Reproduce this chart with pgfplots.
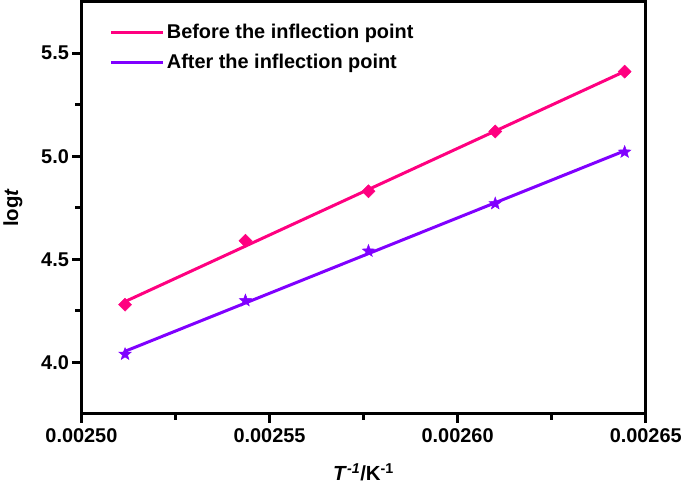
\documentclass[border=0pt]{standalone}
\usepackage{fontspec}
\setmainfont{Liberation Sans}
\usepackage{pgfplots}
\pgfplotsset{compat=1.18}
\definecolor{cpink}{RGB}{255,0,128}
\definecolor{cviolet}{RGB}{128,0,255}
\pgfdeclareplotmark{fstar}{%
  \pgfpathmoveto{\pgfpointpolar{90}{\pgfplotmarksize}}%
  \pgfpathlineto{\pgfpointpolar{126}{0.42\pgfplotmarksize}}%
  \pgfpathlineto{\pgfpointpolar{162}{\pgfplotmarksize}}%
  \pgfpathlineto{\pgfpointpolar{198}{0.42\pgfplotmarksize}}%
  \pgfpathlineto{\pgfpointpolar{234}{\pgfplotmarksize}}%
  \pgfpathlineto{\pgfpointpolar{270}{0.42\pgfplotmarksize}}%
  \pgfpathlineto{\pgfpointpolar{306}{\pgfplotmarksize}}%
  \pgfpathlineto{\pgfpointpolar{342}{0.42\pgfplotmarksize}}%
  \pgfpathlineto{\pgfpointpolar{18}{\pgfplotmarksize}}%
  \pgfpathlineto{\pgfpointpolar{54}{0.42\pgfplotmarksize}}%
  \pgfpathclose\pgfusepathqfillstroke}
\pgfdeclareplotmark{fdiamond}{%
  \pgfpathmoveto{\pgfqpoint{0pt}{\pgfplotmarksize}}%
  \pgfpathlineto{\pgfqpoint{\pgfplotmarksize}{0pt}}%
  \pgfpathlineto{\pgfqpoint{0pt}{-\pgfplotmarksize}}%
  \pgfpathlineto{\pgfqpoint{-\pgfplotmarksize}{0pt}}%
  \pgfpathclose\pgfusepathqfillstroke}
\begin{document}
\begin{tikzpicture}[line width=3bp]
\begin{axis}[
  name=ax,
  scale only axis, width=565bp, height=413bp,
  xmin=0.0025, xmax=0.00265, ymin=3.75, ymax=5.75,
  scaled x ticks=false, scaled y ticks=false,
  xtick={0.0025,0.00255,0.0026,0.00265},
  xticklabels={0.00250,0.00255,0.00260,0.00265},
  ytick={4.0,4.5,5.0,5.5},
  yticklabels={4.0,4.5,5.0,5.5},
  minor x tick num=1, minor y tick num=1,
  tick align=outside, tick pos=left,
  major tick length=9bp, minor tick length=6bp,
  axis line style={line width=3bp, black},
  every tick/.append style={black, line width=3bp},
  major tick style={black, line width=3bp},
  minor tick style={black, line width=3bp},
  tick label style={font=\fontsize{20}{23}\selectfont\bfseries},
  xticklabel style={yshift=-2bp},
  /pgf/number format/assume math mode=true,
  label style={font=\fontsize{20.5}{24}\selectfont\bfseries},
  ylabel style={yshift=12bp},
  xlabel style={yshift=-14bp},
  xlabel={\textit{T}\textsuperscript{\textit{-1}}/K\textsuperscript{-1}},
  ylabel={log\textit{t}},
  legend style={draw=none, fill=none, at={(0.045,0.955)}, anchor=north west,
    font=\fontsize{20}{23}\selectfont\bfseries, row sep=10bp},
  legend cell align=left,
  legend image code/.code={\draw (0bp,0bp) -- (52bp,0bp);},
]
\addplot[cpink, line width=3bp] coordinates {(0.0025116,4.295) (0.0026444,5.411)};
\addlegendentry{Before the inflection point}
\addplot[cviolet, line width=3bp] coordinates {(0.0025116,4.054) (0.0026444,5.026)};
\addlegendentry{After the inflection point}
\addplot[only marks, mark=fdiamond, mark size=6.5bp, cpink, line width=0.5bp, forget plot] coordinates {
 (0.0025116,4.28) (0.0025436,4.59) (0.0025763,4.83) (0.0026100,5.12) (0.0026444,5.41)};
\addplot[only marks, mark=fstar, mark size=6.5bp, cviolet, line width=0.5bp, forget plot] coordinates {
 (0.0025116,4.04) (0.0025436,4.30) (0.0025763,4.54) (0.0026100,4.77) (0.0026444,5.02)};
\end{axis}
\draw[black, line width=3bp, line join=miter] (ax.south west) rectangle (ax.north east);
\end{tikzpicture}
\end{document}
